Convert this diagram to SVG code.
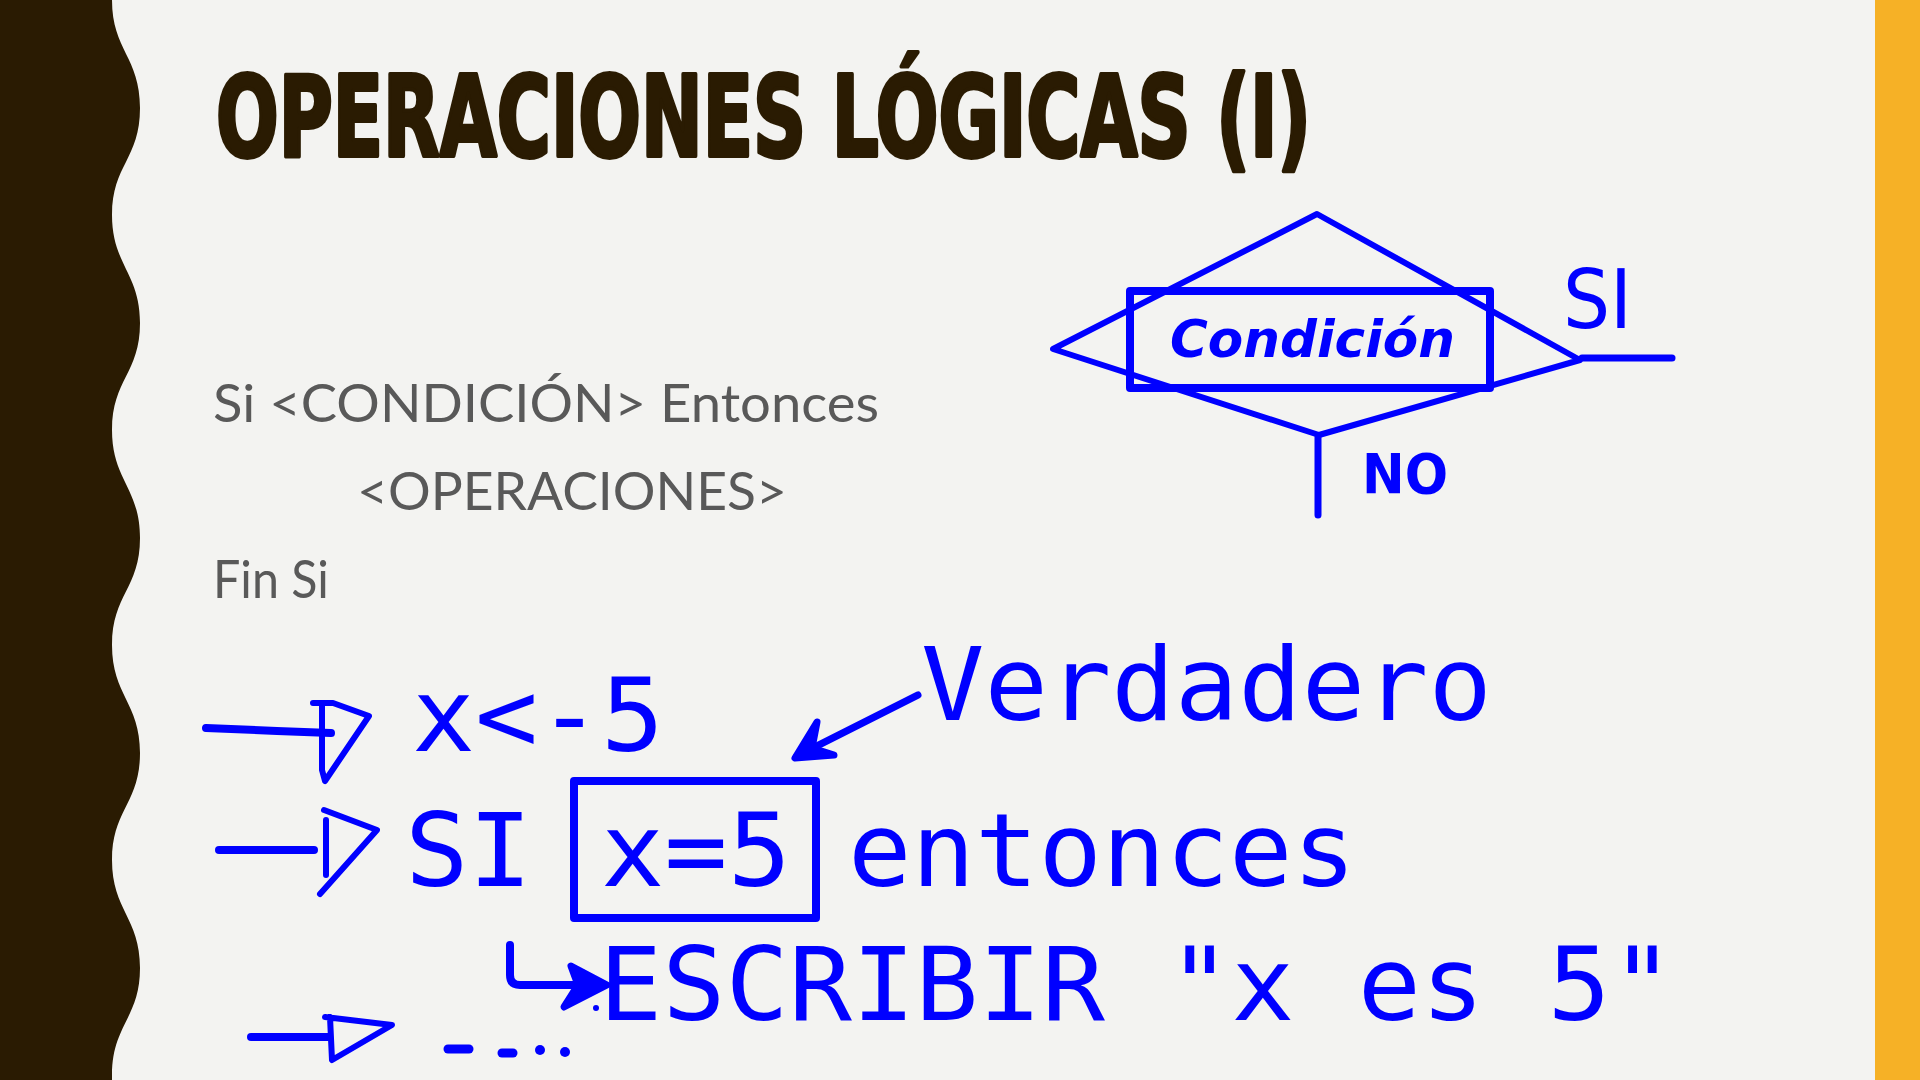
<svg xmlns="http://www.w3.org/2000/svg" width="1920" height="1080" viewBox="0 0 1920 1080">
<style>
.ink{fill:none;stroke:#0000FF;stroke-linecap:round;stroke-linejoin:round}
.mono{font-family:"DejaVu Sans Mono","Liberation Mono",monospace;font-size:102px;fill:#0000FF}
.body{font-family:Lato,"Liberation Sans",sans-serif;font-size:52px;fill:#595959}
.hand{font-family:"DejaVu Sans","Liberation Sans",sans-serif;fill:#0000FF}
</style>
<rect width="1920" height="1080" fill="#F3F3F1"/>
<rect x="1875" y="0" width="45" height="1080" fill="#F6B126"/>
<path d="M0,0 L112,0 C112,50 140,57 140,108 S112,165 112,215 S140,273 140,323 S112,380 112,430 S140,488 140,538 S112,595 112,645 S140,703 140,753 S112,810 112,860 S140,918 140,968 S112,1025 112,1075 L112,1080 L0,1080 Z" fill="#2A1B02"/>

<g id="title">
<text x="216" y="156" font-family="'DejaVu Sans Condensed','DejaVu Sans',sans-serif" font-weight="bold" font-size="112" fill="#2A1B02" stroke="#2A1B02" stroke-width="4" stroke-linejoin="round" textLength="1095" lengthAdjust="spacingAndGlyphs">OPERACIONES LÓGICAS (I)</text>
</g>

<g id="pseudocode">
<text class="body" x="213" y="422" textLength="666" lengthAdjust="spacingAndGlyphs">Si &lt;CONDICIÓN&gt; Entonces</text>
<text class="body" x="357" y="510" textLength="430" lengthAdjust="spacingAndGlyphs">&lt;OPERACIONES&gt;</text>
<text class="body" x="213" y="598" textLength="116" lengthAdjust="spacingAndGlyphs">Fin Si</text>
</g>

<g id="decision">
<polygon class="ink" points="1317,214 1580,360 1319,435 1053,349" stroke-width="6"/>
<rect class="ink" x="1130" y="291" width="360" height="97" stroke-width="8" stroke-linecap="butt" stroke-linejoin="miter"/>
<text class="hand" x="1170" y="357" font-size="52" font-style="italic" font-weight="bold" textLength="285" lengthAdjust="spacingAndGlyphs">Condición</text>
</g>

<g id="label-si">
<text class="hand" x="1563" y="328" font-size="82" textLength="69" lengthAdjust="spacingAndGlyphs">SI</text>
</g>
<g id="label-no">
<text class="hand" x="1362" y="493" font-size="56" font-weight="bold" textLength="86" lengthAdjust="spacingAndGlyphs">NO</text>
</g>

<g id="code-line1">
<text class="mono" x="412" y="751" textLength="252" lengthAdjust="spacingAndGlyphs">x&lt;-5</text>
</g>
<g id="verdadero">
<text class="mono" x="921" y="720" textLength="571" lengthAdjust="spacingAndGlyphs">Verdadero</text>
</g>
<g id="code-line2">
<text class="mono" x="405" y="886" textLength="127" lengthAdjust="spacingAndGlyphs">SI</text>
<rect class="ink" x="574" y="781" width="242" height="137" stroke-width="8" stroke-linecap="butt" stroke-linejoin="miter"/>
<text class="mono" x="601" y="886" textLength="190" lengthAdjust="spacingAndGlyphs">x=5</text>
<text class="mono" x="848" y="886" textLength="508" lengthAdjust="spacingAndGlyphs">entonces</text>
</g>
<g id="code-line3">
<text class="mono" x="599" y="1020" textLength="1075" lengthAdjust="spacingAndGlyphs">ESCRIBIR "x es 5"</text>
</g>

<g id="connectors">
<line class="ink" x1="1582" y1="358" x2="1672" y2="358" stroke-width="7"/>
<line class="ink" x1="1318" y1="437" x2="1318" y2="515" stroke-width="7"/>
<line class="ink" x1="918" y1="695" x2="797" y2="756" stroke-width="7"/>
<polygon points="817,722 795,758 834,755 812,748" fill="#0000FF" stroke="#0000FF" stroke-width="7" stroke-linejoin="round"/>
<path class="ink" d="M510,945 L510,975 Q510,985 520,985 L598,985" stroke-width="8"/>
<polygon points="571,966 607,985 564,1007 578,985" fill="#0000FF" stroke="#0000FF" stroke-width="7" stroke-linejoin="round"/>
<circle cx="596" cy="1008" r="3" fill="#0000FF"/>
<path class="ink" d="M206,728 L277,731 L331,733" stroke-width="8"/>
<path class="ink" d="M313,703 L333,703 L369,716 L325,781 L322,770 L322,703" stroke-width="6"/>
<path class="ink" d="M219,850 L314,850" stroke-width="8"/>
<path class="ink" d="M324,810 L377,830 L320,894" stroke-width="6"/>
<path class="ink" d="M326,820 L326,875" stroke-width="6"/>
<path class="ink" d="M251,1037 L328,1037" stroke-width="8"/>
<path class="ink" d="M325,1017 L392,1025 L332,1060 L330,1017" stroke-width="6"/>
<line class="ink" x1="448" y1="1049" x2="469" y2="1049" stroke-width="9"/>
<line class="ink" x1="502" y1="1053" x2="513" y2="1053" stroke-width="9"/>
<circle cx="540" cy="1050" r="5" fill="#0000FF"/>
<circle cx="565" cy="1052" r="5" fill="#0000FF"/>
</g>
</svg>
